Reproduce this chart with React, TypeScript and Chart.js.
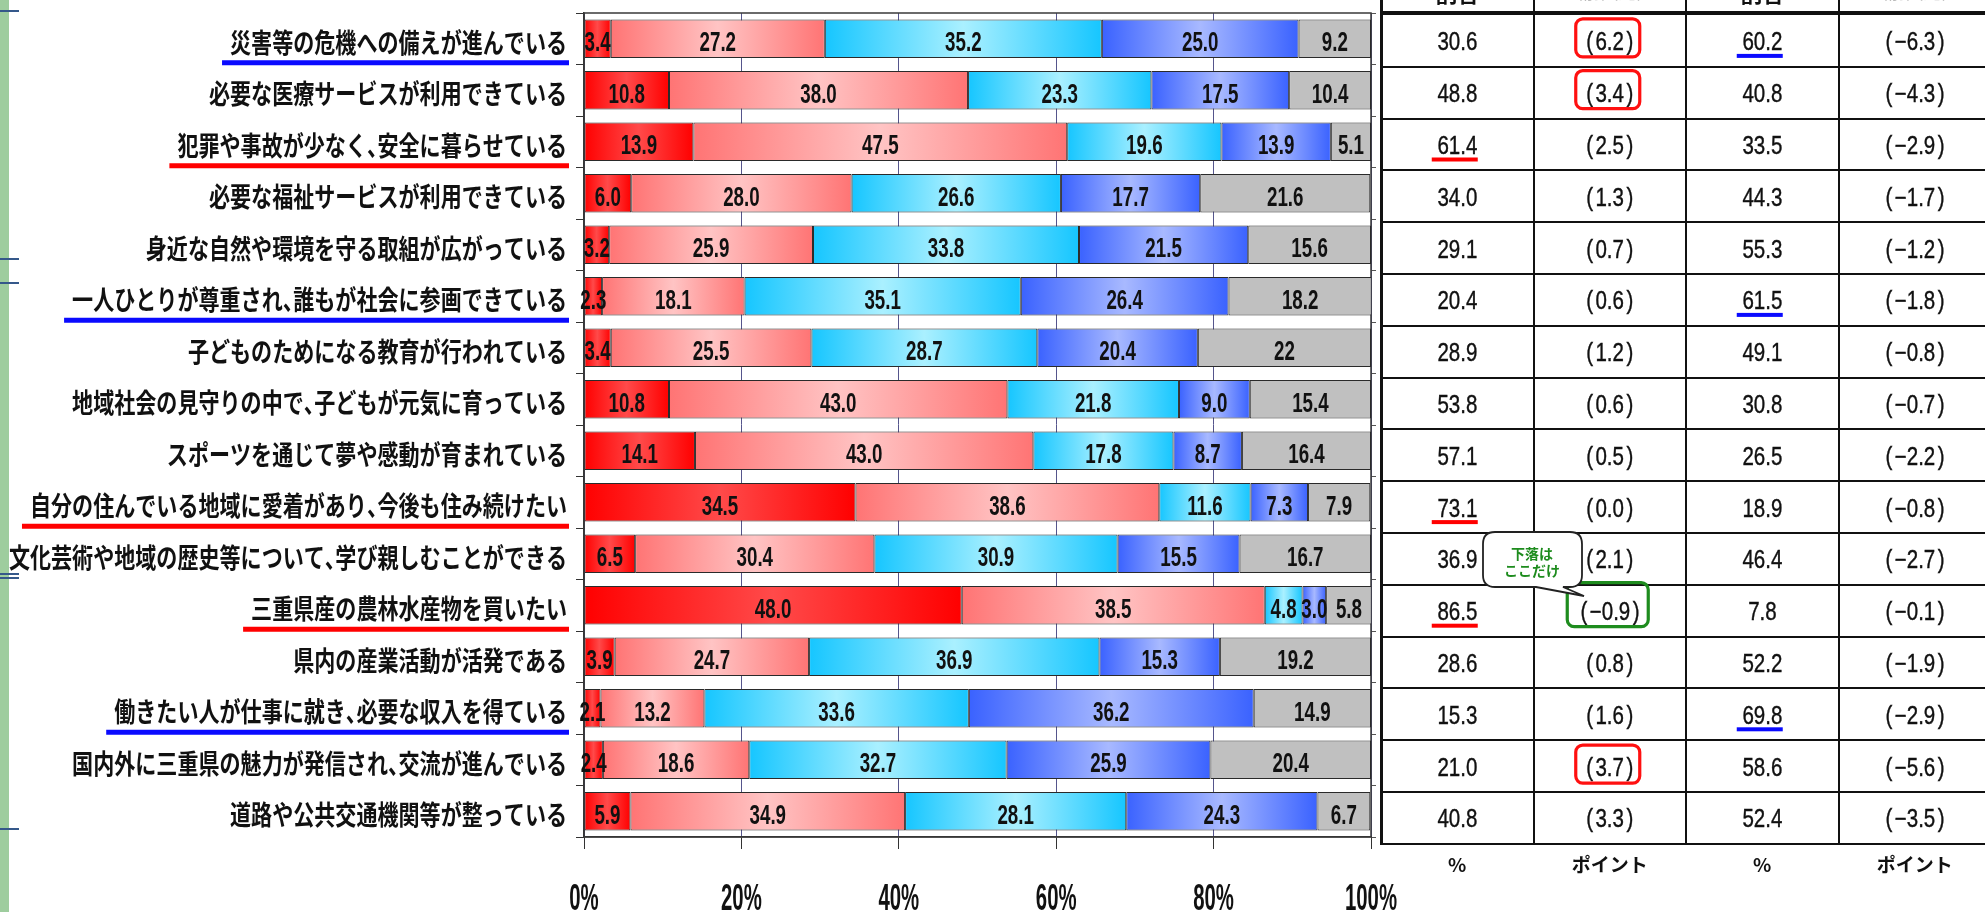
import React, { useEffect, useRef } from "react";
import { Chart, registerables } from "chart.js";

Chart.register(...registerables);

// ---------------- data ----------------
const categories = [
  "災害等の危機への備えが進んでいる",
  "必要な医療サービスが利用できている",
  "犯罪や事故が少なく、安全に暮らせている",
  "必要な福祉サービスが利用できている",
  "身近な自然や環境を守る取組が広がっている",
  "一人ひとりが尊重され、誰もが社会に参画できている",
  "子どものためになる教育が行われている",
  "地域社会の見守りの中で、子どもが元気に育っている",
  "スポーツを通じて夢や感動が育まれている",
  "自分の住んでいる地域に愛着があり、今後も住み続けたい",
  "文化芸術や地域の歴史等について、学び親しむことができる",
  "三重県産の農林水産物を買いたい",
  "県内の産業活動が活発である",
  "働きたい人が仕事に就き、必要な収入を得ている",
  "国内外に三重県の魅力が発信され、交流が進んでいる",
  "道路や公共交通機関等が整っている",
];

const seriesNames = ["感じる", "どちらかといえば感じる", "どちらかといえば感じない", "感じない", "わからない"];
const strongYes = [3.4, 10.8, 13.9, 6.0, 3.2, 2.3, 3.4, 10.8, 14.1, 34.5, 6.5, 48.0, 3.9, 2.1, 2.4, 5.9];
const yes = [27.2, 38.0, 47.5, 28.0, 25.9, 18.1, 25.5, 43.0, 43.0, 38.6, 30.4, 38.5, 24.7, 13.2, 18.6, 34.9];
const no = [35.2, 23.3, 19.6, 26.6, 33.8, 35.1, 28.7, 21.8, 17.8, 11.6, 30.9, 4.8, 36.9, 33.6, 32.7, 28.1];
const strongNo = [25.0, 17.5, 13.9, 17.7, 21.5, 26.4, 20.4, 9.0, 8.7, 7.3, 15.5, 3.0, 15.3, 36.2, 25.9, 24.3];
const unknown = [9.2, 10.4, 5.1, 21.6, 15.6, 18.2, 22, 15.4, 16.4, 7.9, 16.7, 5.8, 19.2, 14.9, 20.4, 6.7];
// cells whose label is printed without a decimal: [series, row]
const plainCells = [[4, 6]];

const xTicks = [0, 20, 40, 60, 80, 100];

const positiveTotal = [30.6, 48.8, 61.4, 34.0, 29.1, 20.4, 28.9, 53.8, 57.1, 73.1, 36.9, 86.5, 28.6, 15.3, 21.0, 40.8];
const positiveChange = [6.2, 3.4, 2.5, 1.3, 0.7, 0.6, 1.2, 0.6, 0.5, 0.0, 2.1, -0.9, 0.8, 1.6, 3.7, 3.3];
const negativeTotal = [60.2, 40.8, 33.5, 44.3, 55.3, 61.5, 49.1, 30.8, 26.5, 18.9, 46.4, 7.8, 52.2, 69.8, 58.6, 52.4];
const negativeChange = [-6.3, -4.3, -2.9, -1.7, -1.2, -1.8, -0.8, -0.7, -2.2, -0.8, -2.7, -0.1, -1.9, -2.9, -5.6, -3.5];
const unitLabels = ["%", "ポイント", "%", "ポイント"];
const headerLabels = ["割合", "（前回比）", "割合", "（前回比）"];
const calloutLines = ["下落は", "ここだけ"];

// annotations
const labelUnderlines = [
  { row: 0, color: "#0a0aff" },
  { row: 2, color: "#ff0000" },
  { row: 5, color: "#0a0aff" },
  { row: 9, color: "#ff0000" },
  { row: 11, color: "#ff0000" },
  { row: 13, color: "#0a0aff" },
];
const tableUnderlines = [
  { row: 0, col: 2, color: "#0a0aff" },
  { row: 2, col: 0, color: "#ff0000" },
  { row: 5, col: 2, color: "#0a0aff" },
  { row: 9, col: 0, color: "#ff0000" },
  { row: 11, col: 0, color: "#ff0000" },
  { row: 13, col: 2, color: "#0a0aff" },
];
const tableBoxes = [
  { row: 0, col: 1, color: "#ff1010", w: 64, h: 38, dy: -3 },
  { row: 1, col: 1, color: "#ff1010", w: 64, h: 38, dy: -3 },
  { row: 14, col: 1, color: "#ff1010", w: 64, h: 38, dy: -2 },
  { row: 11, col: 1, color: "#1e8c1e", w: 81, h: 44, dy: -6 },
];

// ---------------- styles ----------------
const series = [strongYes, yes, no, strongNo, unknown];
const segColors = [
  ["#ff0000", "#ff4a4a"],
  ["#ff7474", "#ffc4c4"],
  ["#16c6ff", "#aaf0ff"],
  ["#3a62ff", "#a8b9ff"],
  ["#c0c0c0", "#c0c0c0"],
];
const JP = '"Noto Sans CJK JP", "Noto Sans CJK SC", sans-serif';
const LAT = '"Liberation Sans", Arial, sans-serif';

const CANVAS_W = 1400;
const CANVAS_H = 912;

const colX = [1381, 1533.5, 1686, 1838.5];
const colW = 152.5;
const tableTop = 15;
const rowH = 51.8;
const rowTop = (i: number) => tableTop + i * rowH;
const rowMid = (i: number) => tableTop + (i + 0.5) * rowH;

const fmtSeg = (di: number, i: number) =>
  plainCells.some(([d, r]) => d === di && r === i) ? String(series[di][i]) : series[di][i].toFixed(1);
const signed = (v: number) => (v < 0 ? "−" + Math.abs(v).toFixed(1) : v.toFixed(1));

const makeBg = (di: number) => (c: any) => {
  const [edge, mid] = segColors[di];
  const chart = c.chart;
  const xs = chart.scales && chart.scales.x;
  if (!xs || !chart.chartArea || c.type !== "data") return edge;
  const i = c.dataIndex;
  let start = 0;
  for (let d = 0; d < di; d++) start += series[d][i];
  const end = start + series[di][i];
  const x0 = xs.getPixelForValue(start);
  const x1 = xs.getPixelForValue(end);
  if (!isFinite(x0) || !isFinite(x1) || Math.abs(x1 - x0) < 0.5) return edge;
  const g = chart.ctx.createLinearGradient(x0, 0, x1, 0);
  g.addColorStop(0, edge);
  g.addColorStop(0.5, mid);
  g.addColorStop(1, edge);
  return g;
};

const framePlugin = {
  id: "frame",
  beforeDatasetsDraw(chart: any) {
    const { ctx, chartArea: a } = chart;
    ctx.save();
    ctx.strokeStyle = "#3a3a3a";
    ctx.lineWidth = 1.5;
    ctx.strokeRect(a.left, a.top, a.right - a.left, a.bottom - a.top);
    ctx.restore();
  },
};

const segLabelPlugin = {
  id: "segLabels",
  afterDatasetsDraw(chart: any) {
    const ctx = chart.ctx;
    ctx.save();
    ctx.fillStyle = "#111";
    ctx.font = `bold 28px ${LAT}`;
    ctx.textAlign = "center";
    ctx.textBaseline = "alphabetic";
    chart.data.datasets.forEach((_: any, di: number) => {
      const meta = chart.getDatasetMeta(di);
      meta.data.forEach((el: any, i: number) => {
        const { x, base, y } = el.getProps(["x", "base", "y"], true);
        ctx.save();
        ctx.translate((x + base) / 2, y + 12.5);
        ctx.scale(0.67, 1);
        ctx.fillText(fmtSeg(di, i), 0, 0);
        ctx.restore();
      });
    });
    ctx.restore();
  },
};

const NARROW = "、，";

const axisTextPlugin = {
  id: "axisText",
  afterDraw(chart: any) {
    const ctx = chart.ctx;
    const ys = chart.scales.y;
    const xs = chart.scales.x;
    // category labels (drawn right-aligned, condensed; ideographic comma narrowed)
    ctx.save();
    ctx.font = `bold 27px ${JP}`;
    ctx.fillStyle = "#111";
    ctx.textAlign = "left";
    ctx.textBaseline = "alphabetic";
    const sx = 0.78;
    const rightX = 567;
    categories.forEach((label, i) => {
      const y = ys.getPixelForValue(i);
      const chars = Array.from(label);
      const adv = chars.map((ch) => {
        const w = ctx.measureText(ch).width * sx;
        return NARROW.includes(ch) ? w * 0.5 : w;
      });
      const total = adv.reduce((a, b) => a + b, 0);
      let x = rightX - total;
      const startX = x;
      chars.forEach((ch, k) => {
        ctx.save();
        ctx.translate(x, y + 14);
        ctx.scale(sx, 1);
        ctx.fillText(ch, 0, 0);
        ctx.restore();
        x += adv[k];
      });
      const u = labelUnderlines.find((l) => l.row === i);
      if (u) {
        ctx.fillStyle = u.color;
        ctx.fillRect(startX - 8, y + 21.5, total + 10, 5);
        ctx.fillStyle = "#111";
      }
    });
    ctx.restore();
    // x tick labels
    ctx.save();
    ctx.font = `bold 37px ${LAT}`;
    ctx.fillStyle = "#111";
    ctx.textAlign = "center";
    ctx.textBaseline = "alphabetic";
    xs.ticks.forEach((t: any) => {
      const x = xs.getPixelForValue(t.value);
      ctx.save();
      ctx.translate(x, 910);
      ctx.scale(0.55, 1);
      ctx.fillText(`${t.value}%`, 0, 0);
      ctx.restore();
    });
    ctx.restore();
  },
};

export default function App() {
  const ref = useRef<HTMLCanvasElement>(null);

  useEffect(() => {
    if (!ref.current) return;
    const chart = new Chart(ref.current, {
      type: "bar",
      data: {
        labels: categories,
        datasets: series.map((vals, di) => ({
          label: seriesNames[di],
          data: vals,
          backgroundColor: makeBg(di),
          borderColor: "#2a2a2a",
          borderWidth: 1,
          borderSkipped: false,
          barPercentage: 0.75,
          categoryPercentage: 1,
        })),
      },
      options: {
        indexAxis: "y",
        responsive: false,
        animation: false,
        layout: { padding: { top: 13, right: 24, left: 0, bottom: 0 } },
        plugins: { legend: { display: false }, tooltip: { enabled: false } },
        scales: {
          x: {
            type: "linear",
            stacked: true,
            min: xTicks[0],
            max: xTicks[xTicks.length - 1],
            afterBuildTicks: (s: any) => {
              s.ticks = xTicks.map((v) => ({ value: v }));
            },
            ticks: { display: false },
            grid: {
              color: "#55558c",
              lineWidth: 1,
              drawTicks: true,
              tickLength: 12,
              tickColor: "#333",
            },
            border: { display: true, color: "#333", width: 1.5 },
            afterFit: (s: any) => {
              s.height = 75;
            },
          },
          y: {
            type: "category",
            stacked: true,
            offset: true,
            ticks: { display: false },
            grid: { offset: true, drawOnChartArea: false, drawTicks: true, tickLength: 8, color: "#333" },
            border: { display: true, color: "#333", width: 1.5 },
            afterFit: (s: any) => {
              s.width = 584;
            },
          },
          y2: {
            type: "category",
            position: "right",
            labels: categories,
            offset: true,
            ticks: { display: false },
            grid: { offset: true, drawOnChartArea: false, drawTicks: true, tickLength: 5, color: "#555" },
            border: { display: false },
            afterFit: (s: any) => {
              s.width = 5;
            },
          },
        },
      } as any,
      plugins: [framePlugin, segLabelPlugin, axisTextPlugin],
    });
    return () => chart.destroy();
  }, []);

  const tableRows = categories.map((_, i) => [
    { txt: positiveTotal[i].toFixed(1), paren: false },
    { txt: signed(positiveChange[i]), paren: true },
    { txt: negativeTotal[i].toFixed(1), paren: false },
    { txt: signed(negativeChange[i]), paren: true },
  ]);

  const leftMarks = [10, 258, 282, 573, 577, 828];
  const tableBottom = rowTop(categories.length);

  return (
    <div
      style={{
        position: "fixed",
        left: 0,
        top: 0,
        width: 1985,
        height: 912,
        background: "#fff",
        overflow: "hidden",
      }}
    >
      <div style={{ position: "absolute", left: 0, top: 0, width: 9, height: 912, background: "#9ecd9e" }} />
      {leftMarks.map((y, k) => (
        <div
          key={"m" + k}
          style={{ position: "absolute", left: 0, top: y, width: 19, height: 1.5, background: "#35588a" }}
        />
      ))}
      <canvas
        ref={ref}
        width={CANVAS_W}
        height={CANVAS_H}
        style={{ position: "absolute", left: 0, top: 0, width: CANVAS_W, height: CANVAS_H }}
      />

      {/* table header (cut off at the top) */}
      {headerLabels.map((h, c) => (
        <div
          key={"h" + c}
          style={{
            position: "absolute",
            left: colX[c],
            top: c % 2 === 0 ? -24 : -22,
            width: colW,
            height: 22,
            lineHeight: "22px",
            textAlign: "center",
            font: c % 2 === 0 ? `bold 22px ${JP}` : `18px ${JP}`,
            color: c % 2 === 0 ? "#111" : "#bbb",
          }}
        >
          {h}
        </div>
      ))}

      {/* table lines */}
      <div style={{ position: "absolute", left: colX[0], top: 11, width: 1985 - colX[0], height: 4, background: "#111" }} />
      {categories.map((_, i) => (
        <div
          key={"hl" + i}
          style={{
            position: "absolute",
            left: colX[0],
            top: rowTop(i + 1) - 1,
            width: 1985 - colX[0],
            height: 2,
            background: "#111",
          }}
        />
      ))}
      {colX.map((x, c) => (
        <div
          key={"vl" + c}
          style={{
            position: "absolute",
            left: x - (c === 0 ? 1.5 : 1),
            top: 0,
            width: c === 0 ? 3 : 2,
            height: tableBottom + 1,
            background: "#111",
          }}
        />
      ))}

      {/* table cells */}
      {tableRows.map((cells, i) =>
        cells.map((cell, c) => (
          <div
            key={`c${i}-${c}`}
            style={{
              position: "absolute",
              left: colX[c],
              top: rowTop(i) + 1,
              width: colW,
              height: rowH,
              display: "flex",
              alignItems: "center",
              justifyContent: "center",
              font: `25px ${LAT}`,
              color: "#111",
            }}
          >
            <span style={{ display: "inline-block", transform: "scaleX(0.82)", whiteSpace: "pre", WebkitTextStroke: "0.4px #111" }}>
              {cell.paren ? (
                <>
                  <span>(</span>
                  <span style={{ margin: "0 3px" }}>{cell.txt}</span>
                  <span>)</span>
                </>
              ) : (
                cell.txt
              )}
            </span>
          </div>
        ))
      )}

      {/* unit row */}
      {unitLabels.map((u, c) => (
        <div
          key={"u" + c}
          style={{
            position: "absolute",
            left: colX[c],
            top: 850,
            width: colW,
            height: 28,
            lineHeight: "28px",
            textAlign: "center",
            font: `bold 19px ${JP}`,
            color: "#111",
          }}
        >
          {u}
        </div>
      ))}

      {/* annotations */}
      <svg
        width={1985}
        height={912}
        style={{ position: "absolute", left: 0, top: 0, pointerEvents: "none" }}
      >
        {tableUnderlines.map((u, k) => (
          <rect
            key={"tu" + k}
            x={colX[u.col] + colW / 2 - 2.5 - 23}
            y={rowMid(u.row) + 13}
            width={46}
            height={4}
            fill={u.color}
          />
        ))}
        {tableBoxes.map((b, k) => (
          <rect
            key={"tb" + k}
            x={colX[b.col] + colW / 2 - 2 - b.w / 2}
            y={rowMid(b.row) + b.dy - b.h / 2}
            width={b.w}
            height={b.h}
            rx={7}
            ry={7}
            fill="none"
            stroke={b.color}
            strokeWidth={3.2}
          />
        ))}
        <path
          d="M 1495 532 H 1570 Q 1582 532 1582 544 V 575 Q 1582 587 1570 587 H 1563 L 1584 596 L 1536 587 H 1495 Q 1483 587 1483 575 V 544 Q 1483 532 1495 532 Z"
          fill="#fff"
          stroke="#222"
          strokeWidth={1.8}
        />
        {calloutLines.map((t, k) => (
          <text
            key={"ct" + k}
            x={1532}
            y={559 + k * 17}
            textAnchor="middle"
            style={{ font: `bold 14px ${JP}` }}
            fill="#1e8c1e"
          >
            {t}
          </text>
        ))}
      </svg>
    </div>
  );
}
